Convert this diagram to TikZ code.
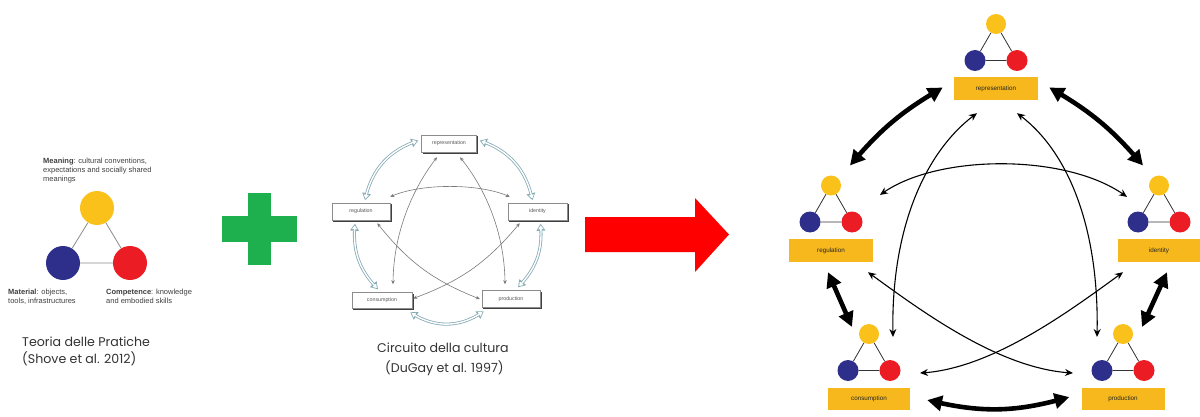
\documentclass[tikz,border=0pt]{standalone}
\usepackage{fontspec}
\setmainfont{Liberation Sans}
\newfontfamily\capfont{Poppins}
\usetikzlibrary{arrows.meta,calc,backgrounds,bending}

\definecolor{triYellow}{HTML}{FBC11B}
\definecolor{triBlue}{HTML}{2D2F8A}
\definecolor{triRed}{HTML}{EC1C24}
\definecolor{labelBox}{HTML}{F6B81C}
\definecolor{plusGreen}{HTML}{1EAF4E}
\definecolor{bigRed}{HTML}{FE0000}
\definecolor{hollowBlue}{HTML}{86ABB7}
\definecolor{circuitGrey}{HTML}{7A7A7A}
\definecolor{capGrey}{HTML}{333333}

\tikzset{
  capt/.style={anchor=west, inner sep=0pt, text=capGrey, font=\capfont\fontsize{12.6}{14}\selectfont},
  note/.style={anchor=north west, inner sep=0pt, align=left, text=black!75, font=\fontsize{7.5}{8.8}\selectfont},
  % left triad
  bigdot/.style={circle, inner sep=0pt, minimum size=34pt},
  % right triads
  dot/.style={circle, inner sep=0pt, minimum size=21pt},
  ydot/.style={dot, fill=triYellow, minimum size=20pt},
  bdot/.style={dot, fill=triBlue},
  rdot/.style={dot, fill=triRed},
  rbox/.style={fill=labelBox, minimum height=23pt, inner sep=0pt, text=black!85, font=\fontsize{6.3}{7}\selectfont},
  % circuit of culture
  mbox/.style={draw=black!45, line width=0.5pt, fill=white, minimum width=56pt, minimum height=17pt, inner sep=0pt,
    text=black!65, font=\fontsize{5.3}{6}\selectfont},
  hollow/.style={draw=white, line width=1.4pt, shorten >=1.7pt, shorten <=1.7pt,
    {Triangle[length=3.8pt,width=5pt]}-{Triangle[length=3.8pt,width=5pt]},
    preaction={draw=hollowBlue, line width=3pt, shorten >=0pt, shorten <=0pt,
      {Triangle[length=7pt,width=8.5pt]}-{Triangle[length=7pt,width=8.5pt]}}},
  fine/.style={draw=circuitGrey, line width=0.6pt,
    {Stealth[length=4pt,width=3.5pt]}-{Stealth[length=4pt,width=3.5pt]}},
  % practice circuit
  heavy/.style={line width=4.6pt, {Triangle[length=15pt,width=15pt,bend]}-{Triangle[length=15pt,width=15pt,bend]}},
  light/.style={line width=1.1pt, {Stealth[length=8pt,width=7pt,bend]}-{Stealth[length=8pt,width=7pt,bend]}},
}

% one practice: yellow on top, blue and red below, joined by a triangle
\newcommand\practicetriad[3]{%
  \node[ydot] (#1y) at (#2,#3) {};
  \node[bdot] (#1b) at ($(#1y)+(-21,36.5)$) {};
  \node[rdot] (#1r) at ($(#1y)+(21,36.5)$) {};
  \draw[line width=0.8pt, black!80] (#1y) -- (#1b) -- (#1r) -- (#1y);
}
% dark edge below and right of a box of the circuit of culture
\newcommand\boxshade[1]{%
  \fill[black!75] ($(#1.south west)+(1.5,1.5)$) rectangle ($(#1.north east)+(1.5,1.5)$);
}

\begin{document}
\begin{tikzpicture}[x=1pt,y=-1pt]
\useasboundingbox (0,0) rectangle (1200,417);
\begin{scope}[on background layer]
  \fill[white] (0,0) rectangle (1200,417);
\end{scope}

% ---------- theory of practice ----------
\node[bigdot, fill=triYellow] (my) at (97,208) {};
\node[bigdot, fill=triBlue] (mb) at (63,263) {};
\node[bigdot, fill=triRed] (mr) at (130,263) {};
\draw[black!45, line width=0.8pt] (my) -- (mb) -- (mr) -- (my);

\node[note] (meaning) at (43,158) {\textbf{Meaning}: cultural conventions,\\expectations and socially shared\\meanings};
\node[note] (material) at (8,289) {\textbf{Material}: objects,\\tools, infrastructures};
\node[note] (competence) at (106,289) {\textbf{Competence}: knowledge\\and embodied skills};

\node[capt] (cap1a) at (22,342) {Teoria delle Pratiche};
\node[capt] (cap1b) at (22,359) {(Shove et al. 2012)};

% ---------- plus sign ----------
\fill[plusGreen] (248,193) rectangle (271,265);
\fill[plusGreen] (222,216) rectangle (297,242);

% ---------- circuit of culture ----------
\node[mbox, minimum width=55pt] (mrep) at (449,143.5) {representation};
\node[mbox, minimum width=58pt] (mreg) at (361,211.5) {regulation};
\node[mbox, minimum width=59pt] (mid) at (537.5,211.5) {identity};
\node[mbox, minimum width=60pt, minimum height=16pt] (mcons) at (382,300.5) {consumption};
\node[mbox, minimum width=58pt] (mprod) at (511,299) {production};
\begin{scope}[on background layer]
  \boxshade{mrep}\boxshade{mreg}\boxshade{mid}\boxshade{mcons}\boxshade{mprod}
\end{scope}

\draw[hollow] ($(mrep.east)+(3,-3)$) to[bend left=30] ($(mid.north)+(-5,-2.5)$);
\draw[hollow] ($(mrep.west)+(-3,-3)$) to[bend right=30] ($(mreg.north)+(4,-2.5)$);
\draw[hollow] ($(mreg.south)+(-6,3.5)$) to[bend right=25] ($(mcons.north)+(-4,-3)$);
\draw[hollow] ($(mid.south)+(3,3.5)$) to[bend left=25] ($(mprod.north)+(7,-3)$);
\draw[hollow] ($(mcons.south east)+(-2,3.5)$) to[bend right=35] ($(mprod.south west)+(2,3.5)$);

\draw[fine] ($(mrep.south)+(-12,5)$) .. controls (415,185) and (393,230) .. ($(mcons.north)+(11,-8)$);
\draw[fine] ($(mrep.south)+(11,5)$) .. controls (483,185) and (505,230) .. ($(mprod.north)+(-6,-6)$);
\draw[fine] ($(mreg.north east)+(0,-6)$) .. controls (420,183) and (480,183) .. ($(mid.north west)+(2,-6)$);
\draw[fine] ($(mreg.south east)+(-13,3)$) to[bend right=15] ($(mprod.west)+(-2,0)$);
\draw[fine] ($(mid.south west)+(12,3)$) to[bend left=15] ($(mcons.east)+(1,-2)$);

\node[capt] (cap2a) at (377,348) {Circuito della cultura};
\node[capt] (cap2b) at (385,368) {(DuGay et al. 1997)};

% ---------- arrow ----------
\fill[bigRed] (585,217) -- (695,217) -- (695,198) -- (729,234.5) -- (695,272) -- (695,252) -- (585,252) -- cycle;

% ---------- circuit of practices ----------
\node[rbox, minimum width=84pt] (rrep) at (996,88.5) {representation};
\node[rbox, minimum width=84pt] (rreg) at (831,250.5) {regulation};
\node[rbox, minimum width=82pt] (rid) at (1159,250.5) {identity};
\node[rbox, minimum width=82pt, minimum height=22pt] (rcons) at (869,399) {consumption};
\node[rbox, minimum width=83pt, minimum height=22pt] (rprod) at (1123,399) {production};

\practicetriad{trep}{996}{24}
\practicetriad{treg}{831}{185.5}
\practicetriad{tid}{1159}{185.5}
\practicetriad{tcons}{869}{334}
\practicetriad{tprod}{1123}{334}

\draw[heavy] ($(rrep.west)+(-11,-1)$) to[bend right=10] ($(tregy)+(19,-20)$);
\draw[heavy] ($(rrep.east)+(11,-1)$) to[bend left=10] ($(tidy)+(-16,-20)$);
\draw[heavy] ($(rreg.south)+(-3,10)$) -- ($(tconsy)+(-17,-7)$);
\draw[heavy] ($(rid.south)+(8,10)$) -- ($(tprody)+(19,-7)$);
\draw[heavy] ($(rcons.east)+(17,1)$) to[bend right=15] ($(rprod.west)+(-12,-2)$);

\draw[light] ($(rrep.south)+(-19,13)$) .. controls (925,150) and (890,230) .. ($(tconsy)+(24,3)$);
\draw[light] ($(rrep.south)+(21,13)$) .. controls (1069,150) and (1100,230) .. ($(tprody)+(-26,3)$);
\draw[light] ($(tregy)+(49,9.5)$) .. controls (935,153) and (1070,153) .. ($(tidy)+(-32,11.5)$);
\draw[light] ($(rreg.south)+(37,10)$) .. controls (920,310) and (1000,370) .. ($(tprodb)+(-29,2.5)$);
\draw[light] ($(rid.south)+(-36,10)$) .. controls (1071,310) and (991,370) .. ($(tconsr)+(30,2.5)$);
\end{tikzpicture}
\end{document}
